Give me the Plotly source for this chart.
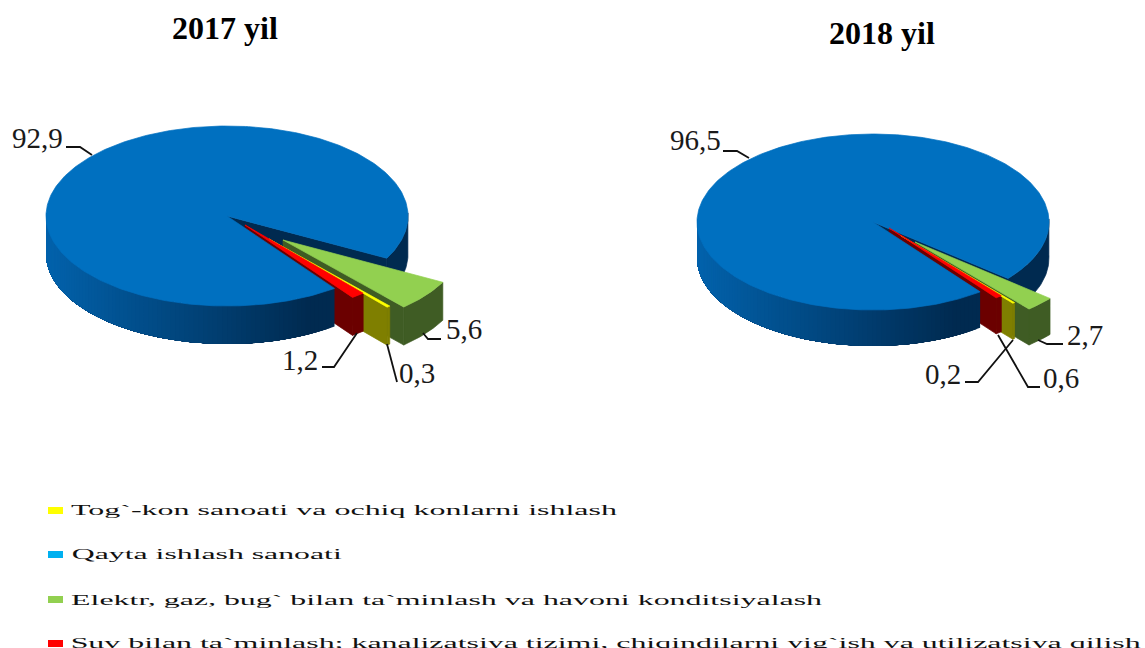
import json
import math
import plotly.graph_objects as go

# ---------- data ----------
categories = [
    "Tog`-kon sanoati va ochiq konlarni ishlash",
    "Qayta ishlash sanoati",
    "Elektr, gaz, bug` bilan ta`minlash va havoni konditsiyalash",
    "Suv bilan ta`minlash; kanalizatsiya tizimi, chiqindilarni yig`ish va utilizatsiya qilish",
]
values_2017 = [0.3, 92.9, 5.6, 1.2]
values_2018 = [0.2, 96.5, 2.7, 0.6]
value_labels_2017 = ["0,3", "92,9", "5,6", "1,2"]
value_labels_2018 = ["0,2", "96,5", "2,7", "0,6"]
titles = ["2017 yil", "2018 yil"]

# ---------- styles and geometry ----------
W, H = 1145, 648
FONT = "Liberation Serif"
BLUE_TOP, BLUE_LEFT, BLUE_DARK = "#0070C0", (2, 98, 172), (0, 42, 80)
TOPS = {"y": "#FFFF00", "g": "#92D050", "r": "#FF0000"}
WALLS = {"y": "#7F7F00", "g": "#3F5C24", "r": "#6B0000"}
SWATCHES = ["#FFFF00", "#00B0F0", "#92D050", "#FF0000"]

PIES = [
    dict(values=values_2017, labels=value_labels_2017, title=titles[0], title_xy=(225, 28),
         cx=227, cy=216, rx=181, ry=90, depth=38, start=28.0,
         off_g=(56, 24), off_y=(42, 23), off_r=(18, 9),
         label_xy=[(417, 373), (37, 138), (464, 329), (300, 360)],
         leaders=[[(387, 344), (397, 382)],
                  [(66, 147), (80, 147), (92, 155)],
                  [(423, 333), (428, 339), (441, 339)],
                  [(322, 367), (334, 367), (357, 333)]]),
    dict(values=values_2018, labels=value_labels_2018, title=titles[1], title_xy=(882, 33),
         cx=873, cy=222, rx=176, ry=88, depth=36, start=39.9,
         off_g=(42, 20), off_y=(27.5, 13.5), off_r=(16, 6),
         label_xy=[(943, 374), (695, 140), (1085, 335), (1061, 378)],
         leaders=[[(1013, 340), (978, 382), (965, 382)],
                  [(723, 151), (737, 151), (749, 158)],
                  [(1038, 340), (1047, 344), (1063, 344)],
                  [(998, 335), (1028, 387), (1040, 387)]]),
]

LEGEND_Y = [510, 554, 600, 643]
SWATCH_Y = [(507, 514), (551, 558), (596, 603), (640, 647)]
LEGEND_X0 = 71
LEGEND_WIDTH = [546, 270, 751, 1070]

fig = go.Figure()


def poly(points, color, lw=0.7):
    xs = [p[0] for p in points] + [points[0][0]]
    ys = [p[1] for p in points] + [points[0][1]]
    fig.add_trace(go.Scatter(x=xs, y=ys, mode="lines", fill="toself", fillcolor=color,
                             line=dict(color=color, width=lw), hoverinfo="skip", showlegend=False))


def frange(a, b, step=1.0):
    n = max(2, int(abs(b - a) / step) + 1)
    return [a + (b - a) * i / (n - 1) for i in range(n)]


def draw_pie(p):
    cx, cy, rx, ry, d = p["cx"], p["cy"], p["rx"], p["ry"], p["depth"]

    def pt(theta, off=(0, 0), dz=0):
        t = math.radians(theta)
        return (cx + rx * math.cos(t) + off[0], cy + ry * math.sin(t) + off[1] + dz)

    v_y, v_b, v_g, v_r = p["values"]
    total = sum(p["values"])
    deg = lambda v: v / total * 360
    g0 = p["start"]
    g1 = g0 + deg(v_g)
    y1 = g1 + deg(v_y)
    r1 = y1 + deg(v_r)
    dark = "rgb(%d,%d,%d)" % BLUE_DARK

    # wall right of the gap and inner radial wall of the big slice
    arc = [pt(t) for t in frange(-2, g0)]
    poly(arc + [pt(t, dz=d) for t in frange(g0, -2)], dark)
    poly([(cx, cy), pt(g0), pt(g0, dz=d), (cx, cy + d)], dark)

    # walls of the pulled-out slices, back to front
    for key, a, b, off in (("g", g0, g1, p["off_g"]), ("y", g1, y1, p["off_y"]), ("r", y1, r1, p["off_r"])):
        poly([pt(t, off) for t in frange(a, b)] + [pt(t, off, d) for t in frange(b, a)], WALLS[key])
        apex = (cx + off[0], cy + off[1])
        poly([apex, pt(b, off), pt(b, off, d), (apex[0], apex[1] + d)], WALLS[key])

    # front wall of the big slice: overlapping bands, painted right to left, so no seams
    x_end = pt(r1)[0]
    x_start = cx - rx
    for a in frange(r1, 178, 1.5):
        f = min(1.0, (pt(a)[0] - x_start) / (x_end - x_start) / 0.92)
        c = [round(BLUE_LEFT[i] + (BLUE_DARK[i] - BLUE_LEFT[i]) * f) for i in range(3)]
        band = frange(a, 182, 3.0)
        poly([pt(t) for t in band] + [pt(t, dz=d) for t in reversed(band)], "rgb(%d,%d,%d)" % tuple(c), lw=0)

    # top of the big slice
    poly([(cx, cy)] + [pt(t) for t in frange(r1, g0 + 360)], BLUE_TOP)

    # tops of the pulled-out slices
    for key, a, b, off in (("g", g0, g1, p["off_g"]), ("y", g1, y1, p["off_y"]), ("r", y1, r1, p["off_r"])):
        poly([(cx + off[0], cy + off[1])] + [pt(t, off) for t in frange(a, b, 0.5)], TOPS[key])

    # leader lines
    for line in p["leaders"]:
        fig.add_trace(go.Scatter(x=[q[0] for q in line], y=[q[1] for q in line], mode="lines",
                                 line=dict(color="#111111", width=1.8), hoverinfo="skip", showlegend=False))

    # value labels and title
    for text, (x, y) in zip(p["labels"], p["label_xy"]):
        fig.add_annotation(x=x, y=y, text=text, showarrow=False, xanchor="center", yanchor="middle",
                           font=dict(family=FONT, size=29, color="#1a1a1a"))
    fig.add_annotation(x=p["title_xy"][0], y=p["title_xy"][1], text="<b>%s</b>" % p["title"], showarrow=False,
                       xanchor="center", yanchor="middle", font=dict(family=FONT, size=32, color="#000000"))


for pie in PIES:
    draw_pie(pie)

shapes = []
for name, y, sw, col, w in zip(categories, LEGEND_Y, SWATCH_Y, SWATCHES, LEGEND_WIDTH):
    shapes.append(dict(type="rect", xref="x", yref="y", x0=48, x1=63, y0=sw[0], y1=sw[1],
                       fillcolor=col, line=dict(width=0), layer="above"))
    # text is centred in its box, so the stretch below grows evenly both ways
    fig.add_annotation(x=LEGEND_X0 + w / 2, y=y, text=name, showarrow=False, xanchor="center", yanchor="middle",
                       font=dict(family=FONT, size=15, color="#111111"))

fig.update_layout(
    width=W, height=H, margin=dict(l=0, r=0, t=0, b=0), showlegend=False,
    paper_bgcolor="white", plot_bgcolor="white", shapes=shapes,
    xaxis=dict(range=[0, W], visible=False, fixedrange=True),
    yaxis=dict(range=[H, 0], visible=False, fixedrange=True),
)

# the reference's legend text is stretched horizontally
widths = json.dumps(dict(zip(categories, LEGEND_WIDTH)))
post = """
document.documentElement.style.margin = '0';
document.body.style.margin = '0';
document.body.style.overflow = 'hidden';
var widths = %s;
document.querySelectorAll('text.annotation-text').forEach(function (t) {
  var w = widths[t.textContent];
  if (w) { t.setAttribute('textLength', w); t.setAttribute('lengthAdjust', 'spacingAndGlyphs'); }
});
""" % widths

fig.write_html("out.html", post_script=post, config=dict(displayModeBar=False, staticPlot=True))
